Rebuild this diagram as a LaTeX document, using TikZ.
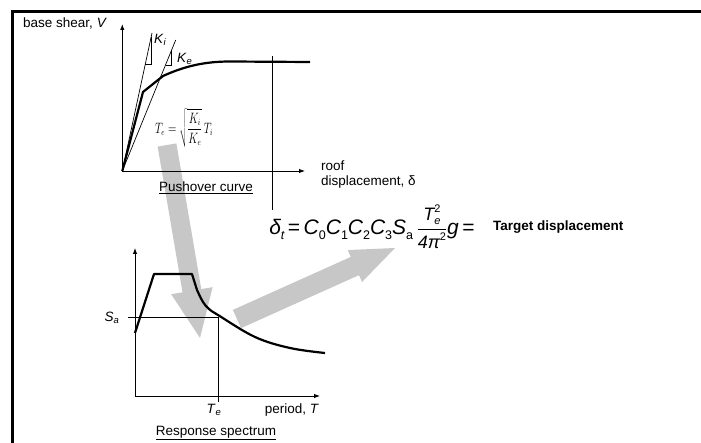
\documentclass[tikz,border=0pt]{standalone}
\usepackage{graphicx}
\usepackage{fontspec}
\setmainfont{Liberation Sans}
\usetikzlibrary{arrows.meta,calc}

\begin{document}
\begin{tikzpicture}[x=1pt, y=-1pt, >={Latex[length=6pt,width=4.5pt]},
    font=\fontsize{13.5}{15}\selectfont,
    axis/.style={line width=0.9pt, ->},
    thinln/.style={line width=0.7pt},
    curve/.style={line width=2.2pt, line join=round},
    fat/.style={fill=black!22, draw=none},
    lbl/.style={inner sep=1pt}]
  \useasboundingbox (0,0) rectangle (701,443);
  % frame
  \draw[line width=2.7pt] (12.7,443) -- (12.7,11.5) -- (701,11.5);

  % the two grey arrows, behind everything
  \foreach \sx/\sy/\tx/\ty/\sw/\hw/\hl in {167/145/200/338/9.5/21/48, 237/319/395/248/10/17.5/44} {
    \coordinate (s) at (\sx,\sy);
    \coordinate (t) at (\tx,\ty);
    \coordinate (h) at ($(t)!\hl pt!(s)$);
    \fill[fat] ($(s)!\sw pt!90:(t)$) -- ($(h)!\sw pt!90:(t)$) -- ($(h)!\hw pt!90:(t)$) -- (t)
      -- ($(h)!\hw pt!-90:(t)$) -- ($(h)!\sw pt!-90:(t)$) -- ($(s)!\sw pt!-90:(t)$) -- cycle;
  }

  % pushover curve
  \coordinate (po) at (122.3,171);
  \coordinate (poy) at (122.3,24);
  \coordinate (pox) at (305,171);
  \draw[axis] (po) -- (poy);
  \draw[axis] (po) -- (pox);
  \coordinate (ki) at (152,33);
  \coordinate (ke) at (175.7,40);
  \draw[thinln] (po) -- (ki);
  \draw[thinln] (po) -- (ke);
  \draw[thinln] (145.3,64) -- (151,64) -- (151,37.5);
  \draw[thinln] (165.5,65) -- (171.7,65) -- (171.7,49.8);
  \draw[curve] (po) -- (143,92) -- (163,76) .. controls (185,66) and (205,61.5) .. (230,61.5) -- (310,62);
  \draw[thinln] (272,56) -- (272,210);
  \node[lbl, anchor=base west] (vlab) at (22,28) {base shear, \textit{V}};
  \node[lbl, anchor=west] (kilab) at (153,40) {\textit{K}\textsubscript{\textit{i}}};
  \node[lbl, anchor=west] (kelab) at (176,59) {\textit{K}\textsubscript{\textit{e}}};
  \node[lbl] (tef) at (184,128) {\resizebox*{58pt}{38pt}{$\displaystyle T_e=\sqrt{\frac{K_i}{K_e}}\,T_i$}};
  \node[lbl, anchor=north west, align=left] (dlab) at (320,160) {roof\\displacement, δ};
  \node[lbl] (pclab) at (206,188) {\underline{Pushover curve}};

  % target displacement
  \node[lbl, inner sep=0pt] (dtf) at (372,227) {\fontsize{21}{24}\selectfont\itshape δ\raisebox{-5pt}{\fontsize{12.5}{13}\selectfont t}%
    \upshape\,=\,\itshape C\raisebox{-5pt}{\fontsize{12.5}{13}\selectfont\upshape 0}C\raisebox{-5pt}{\fontsize{12.5}{13}\selectfont\upshape 1}C\raisebox{-5pt}{\fontsize{12.5}{13}\selectfont\upshape 2}C\raisebox{-5pt}{\fontsize{12.5}{13}\selectfont\upshape 3}S\raisebox{-5pt}{\fontsize{12.5}{13}\selectfont\upshape a}\,%
    $\displaystyle\frac{\hbox{\fontsize{18}{18}\selectfont\itshape T\rlap{\raisebox{8pt}{\fontsize{11}{11}\selectfont\upshape 2}}\raisebox{-4pt}{\fontsize{11}{11}\selectfont e}}}{\hbox{\fontsize{18}{18}\selectfont 4\itshape π\raisebox{8pt}{\fontsize{11}{11}\selectfont\upshape 2}}}$%
    \itshape g\upshape\,=};
  \node[lbl, anchor=west, font=\bfseries\fontsize{13.5}{15}\selectfont] (tdlab) at (492,227) {Target displacement};

  % response spectrum
  \coordinate (so) at (135,396);
  \coordinate (soy) at (135,248);
  \coordinate (sox) at (320,396);
  \coordinate (sa) at (218,317);
  \draw[axis] (so) -- (soy);
  \draw[axis] (so) -- (sox);
  \draw[thinln] (128,317) -- (sa) -- (218,402);
  \draw[curve] (135,333) -- (154,274) -- (192,274) -- (197,290)
    plot[smooth, tension=0.6] coordinates {(197,290) (203,302) (209,309) (218,315) (255,337) (290,348) (325,353)};
  \node[lbl] (salab) at (112,318) {\textit{S}\textsubscript{\textit{a}}};
  \node[lbl] (telab) at (214,410) {\textit{T}\textsubscript{\textit{e}}};
  \node[lbl] (tlab) at (292,410) {period, \textit{T}};
  \node[lbl] (rslab) at (216,433) {\underline{Response spectrum}};
\end{tikzpicture}
\end{document}
